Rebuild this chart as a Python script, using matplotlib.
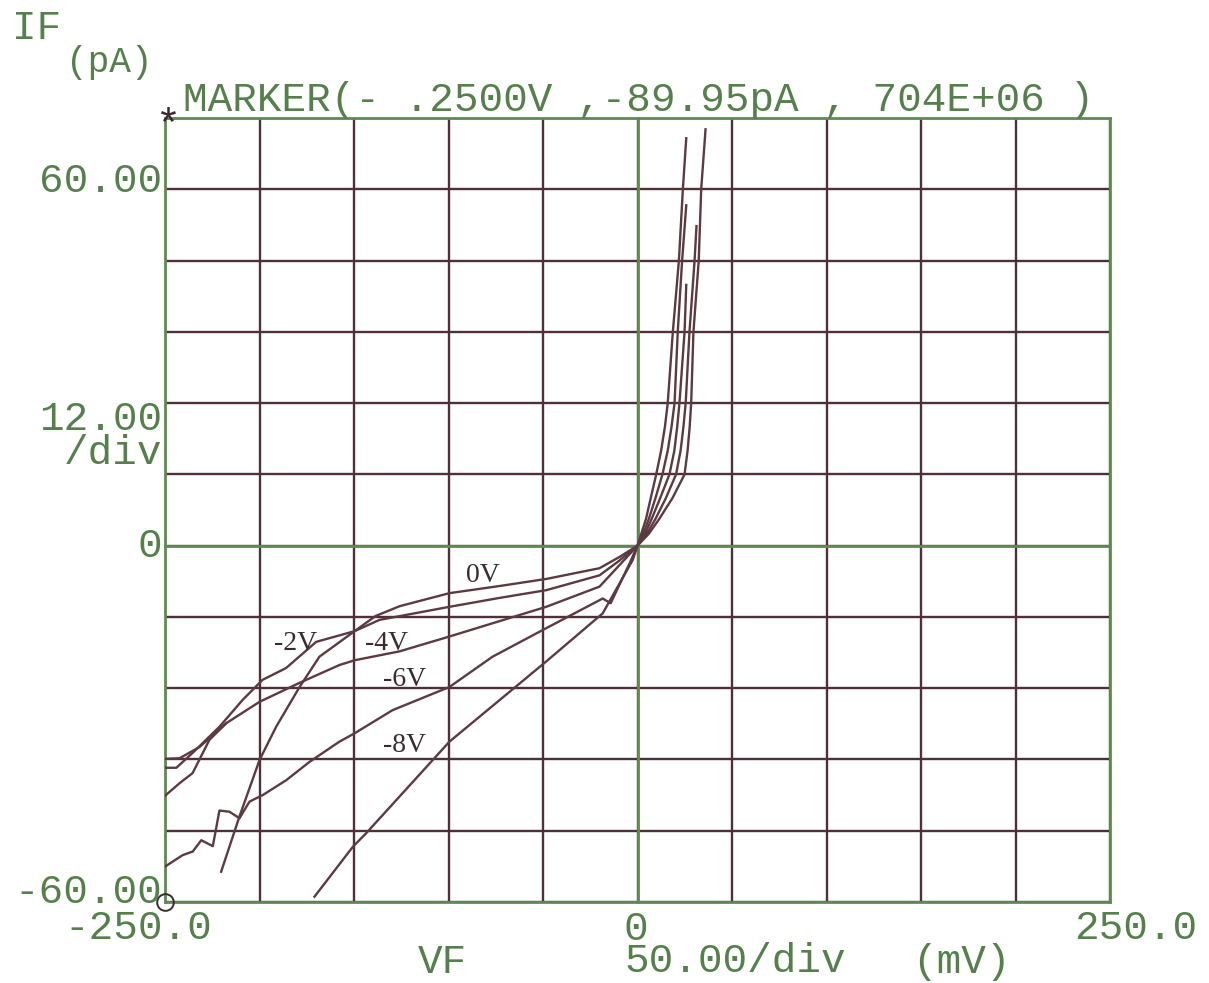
import matplotlib
matplotlib.use("Agg")
import matplotlib.pyplot as plt
import numpy as np

# ---------------- data (mV, pA) ----------------
x_ticks = np.arange(-250, 251, 50)
y_ticks = np.arange(-60, 73, 12)

v_0V = [-220.3, -210.6, -200, -191.2, -178.8, -168.3, -149.7, -138.6, -125.9, -99.5, -73, -48.1, -20.1, -9.5, 0,
        2, 4.5, 7, 9.9, 12.5, 14.5, 16, 18.7, 21.9, 24, 25.8]
i_0V = [-54.9, -45.6, -36.1, -30.5, -23.8, -18.7, -14.4, -11.85, -10.2, -8.0, -6.8, -5.6, -3.8, -1.9, 0,
        2, 4.5, 8, 12, 16, 20, 24, 36, 48, 60, 68.6]

v_m2V = [-250.3, -244, -235.4, -221.2, -209, -198.4, -185.9, -170, -149.7, -136.5, -99.5, -73, -48.3, -20.1, -9.5, 0,
         3, 6, 9.5, 13.2, 16, 18, 19.6, 21.3, 23.6, 25.8]
i_m2V = [-37.4, -37.4, -34.9, -30.5, -26.0, -22.6, -20.6, -16.2, -14.4, -12.5, -10.3, -8.8, -7.5, -5.0, -2.5, 0,
         2, 4.5, 8, 12, 16, 20, 24, 36, 48, 57.3]

v_m4V = [-250.3, -242.3, -231.7, -217.6, -200, -178.8, -157.7, -149.7, -125.9, -99.5, -48.3, -20.1, 0,
         4, 7.5, 12, 16.9, 19.5, 21, 22.2, 24.9, 25.8]
i_m4V = [-35.9, -35.8, -33.9, -29.9, -26.3, -23.1, -20.1, -19.3, -17.8, -15.3, -10.3, -6.9, 0,
         2, 4.5, 8, 12, 16, 20, 24, 36, 43.9]

v_m6V = [-250.3, -240.6, -235.3, -230.8, -224.7, -221.2, -215.9, -210.6, -205.3, -198.3, -185.9, -173.5, -157.7,
         -149.7, -129.6, -99.5, -76.7, -48.3, -18.4, -14.2, -4.2, 0,
         5, 9.5, 15, 20.4, 22.8, 24.3, 25.5, 27.5, 30.2, 31.2]
i_m6V = [-54.1, -52.1, -51.5, -49.6, -50.6, -44.6, -44.8, -45.9, -43.1, -42.0, -39.5, -36.4, -33.0,
         -31.6, -27.7, -23.8, -18.7, -13.9, -8.9, -9.7, -3.0, 0,
         2, 4.5, 8, 12, 16, 20, 24, 36, 48, 53.8]

v_m8V = [-170.9, -150.6, -143.5, -99.5, -48.3, -18.4, -2.5, 0,
         6, 11.5, 18.5, 24.9, 26.5, 27.6, 28.4, 29.6, 32.4, 33.7, 36]
i_m8V = [-59.1, -50.7, -48.4, -33.0, -19.5, -11.4, -2.4, 0,
         2, 4.5, 8, 12, 16, 20, 24, 36, 48, 60, 70.1]

v_extra = [-250.3, -242.3, -235.4, -226.5, -217.6]
i_extra = [-42.2, -40.0, -38.3, -32.7, -29.9]

curve_labels = ["0V", "-2V", "-4V", "-6V", "-8V"]
label_v = [-82, -181, -132.8, -123.3, -123.3]
label_i = [-4.95, -16.4, -16.4, -22.6, -33.6]

# ---------------- style ----------------
W, H = 1209, 983
GREEN = "#5f8c55"
TEXTG = "#55804c"
MAROON = "#4f3039"
CURVE = "#5b3a41"
LABEL = "#3a2a2e"
FONT = "Liberation Mono"

fig = plt.figure(figsize=(W / 100, H / 100), dpi=100)
fig.patch.set_facecolor("white")
ax = fig.add_axes([165 / W, 1 - 902 / H, (1110 - 165) / W, (902 - 118) / H])
ax.set_xlim(-250, 250)
ax.set_ylim(-60, 72)
ax.set_xticks([])
ax.set_yticks([])
for s in ax.spines.values():
    s.set_visible(False)

for xv in x_ticks:
    ax.axvline(xv, color=MAROON, lw=1.7, zorder=1)
for yv in y_ticks:
    ax.axhline(yv, color=MAROON, lw=1.7, zorder=1)
# green frame and zero axes
for xv in (-250, 0, 250):
    ax.axvline(xv, color=GREEN, lw=2.0, zorder=2, clip_on=False)
for yv in (-60, 0, 72):
    ax.axhline(yv, color=GREEN, lw=2.0, zorder=2, clip_on=False)

for vv, ii in [(v_0V, i_0V), (v_m2V, i_m2V), (v_m4V, i_m4V), (v_m6V, i_m6V), (v_m8V, i_m8V), (v_extra, i_extra)]:
    ax.plot(vv, ii, color=CURVE, lw=1.7, zorder=3, solid_joinstyle="round")

for lab, lv, li in zip(curve_labels, label_v, label_i):
    ax.text(lv, li, lab, ha="center", va="center", color=LABEL, fontsize=20,
            family="Liberation Serif", zorder=4)

# corner marker
ax.plot([-250], [-60], marker="o", ms=12, mfc="none", mec=LABEL, mew=1.4, clip_on=False, zorder=5)

def ftext(px, py, s, ha="left", va="center", size=29.5, color=TEXTG, **kw):
    fig.text(px / W, 1 - py / H, s, ha=ha, va=va, fontsize=size, color=color, family=FONT, **kw)

ftext(12, 28, "IF")
ftext(66, 62, "(pA)", size=26)
ftext(168, 127, "*", ha="center", size=30, color=LABEL)
ftext(183, 100, "MARKER(- .2500V ,-89.95pA , 704E+06 )")
ftext(162, 181, "60.00", ha="right")
ftext(162, 436, "12.00\n/div", ha="right", multialignment="right", linespacing=0.9)
ftext(162, 546, "0", ha="right")
ftext(162, 892, "-60.00", ha="right")
ftext(212, 928, "-250.0", ha="right")
ftext(1197, 928, "250.0", ha="right")
ftext(418, 962, "VF")
ftext(624, 945, "0\n50.00/div", multialignment="left", linespacing=0.82)
ftext(912, 962, "(mV)")

fig.savefig("out.png", dpi=100, facecolor="white")
